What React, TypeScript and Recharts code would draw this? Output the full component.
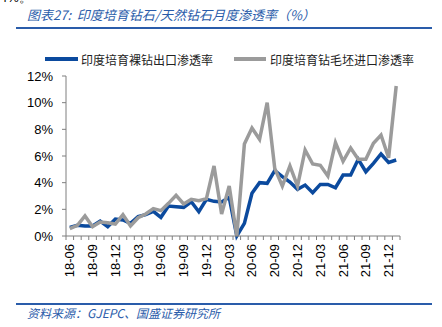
import React from 'react';
import { LineChart, Line, XAxis, YAxis, Legend } from 'recharts';

const months = [
  '18-06', '18-07', '18-08', '18-09', '18-10', '18-11', '18-12',
  '19-01', '19-02', '19-03', '19-04', '19-05', '19-06', '19-07', '19-08', '19-09', '19-10', '19-11', '19-12',
  '20-01', '20-02', '20-03', '20-04', '20-05', '20-06', '20-07', '20-08', '20-09', '20-10', '20-11', '20-12',
  '21-01', '21-02', '21-03', '21-04', '21-05', '21-06', '21-07', '21-08', '21-09', '21-10', '21-11', '21-12',
  '22-01',
];

// 印度培育裸钻出口渗透率 (%)
const bareExport = [
  0.65, 0.8, 0.75, 0.75, 1.12, 0.7, 1.27,
  1.2, 0.95, 1.45, 1.6, 1.85, 1.4, 2.25, 2.2, 2.15, 2.57, 1.82, 2.75,
  2.6, 2.55, 2.9, 0.0, 0.95, 3.2, 4.0, 3.95, 4.9, 4.45, 4.05, 3.5,
  3.82, 3.25, 3.87, 3.87, 3.62, 4.57, 4.57, 5.75, 4.82, 5.45, 6.15, 5.52,
  5.7,
];

// 印度培育钻毛坯进口渗透率 (%)
const roughImport = [
  0.55, 0.8, 1.5, 0.7, 1.05, 1.0, 0.9,
  1.6, 0.75, 1.37, 1.65, 2.05, 1.9, 2.45, 3.05, 2.4, 2.75, 2.65, 2.8,
  5.25, 1.65, 3.75, 0.0, 6.9, 8.1, 7.25, 10.0, 5.07, 3.75, 5.25, 3.75,
  6.45, 5.4, 5.3, 4.5, 7.0, 5.6, 6.6, 5.75, 5.75, 6.95, 7.57, 5.87,
  11.25,
];

const yTicks = [0, 2, 4, 6, 8, 10, 12];
const seriesNames = ['印度培育裸钻出口渗透率', '印度培育钻毛坯进口渗透率'];
const titleText = '图表27:  印度培育钻石/天然钻石月度渗透率（%）';
const sourceText = '资料来源：GJEPC、国盛证券研究所';

const data = months.map((m, i) => ({ month: m, bare: bareExport[i], rough: roughImport[i] }));

const BLUE = '#0b4a9e';
const GREY = '#9b9b9b';
const AXIS = '#7f7f7f';
const HEAD_BLUE = '#2a5caa';
const LATIN = '"Liberation Sans", Arial, sans-serif';
const CJK = '"Noto Sans CJK SC", "Liberation Sans", sans-serif';

const XTick = (props: any) => {
  const { x, y, payload, index } = props;
  const off = payload && payload.offset ? payload.offset : 0;
  const isLast = index === months.length - 1;
  return (
    <g>
      <line x1={x - off} x2={x - off} y1={y} y2={y + 4} stroke={AXIS} strokeWidth={1} />
      {isLast && <line x1={x + off} x2={x + off} y1={y} y2={y + 4} stroke={AXIS} strokeWidth={1} />}
      {index % 3 === 0 && (
        <text
          x={0}
          y={0}
          transform={`translate(${x},${y + 8}) rotate(-90)`}
          textAnchor="end"
          dominantBaseline="central"
          fontSize={13}
          fontFamily={LATIN}
          fill="#000"
        >
          {payload.value}
        </text>
      )}
    </g>
  );
};

const LegendContent = () => (
  <div style={{ display: 'flex', alignItems: 'center', height: 16, fontFamily: CJK, fontSize: 12, color: '#222' }}>
    <div style={{ width: 33, height: 4, background: BLUE, marginRight: 3 }} />
    <span style={{ whiteSpace: 'nowrap' }}>{seriesNames[0]}</span>
    <div style={{ width: 32, height: 4, background: GREY, marginLeft: 21, marginRight: 4 }} />
    <span style={{ whiteSpace: 'nowrap' }}>{seriesNames[1]}</span>
  </div>
);

export default function App() {
  return (
    <div
      style={{
        position: 'absolute',
        left: 0,
        top: 0,
        width: 442,
        height: 327,
        overflow: 'hidden',
        background: '#fff',
      }}
    >
      <div style={{ position: 'absolute', left: 0, top: -11, fontFamily: LATIN, fontSize: 13, color: '#000', whiteSpace: 'nowrap' }}>
        4%。
      </div>
      <div
        style={{
          position: 'absolute',
          left: 27,
          top: 6,
          fontFamily: CJK,
          fontStyle: 'italic',
          fontSize: 13,
          lineHeight: '18px',
          color: HEAD_BLUE,
          whiteSpace: 'pre',
        }}
      >
        {titleText}
      </div>
      <div style={{ position: 'absolute', left: 16, top: 27, width: 416, height: 2, background: HEAD_BLUE }} />
      <div style={{ position: 'absolute', left: 16, top: 303, width: 416, height: 2, background: HEAD_BLUE }} />
      <div
        style={{
          position: 'absolute',
          left: 27,
          top: 305,
          fontFamily: CJK,
          fontStyle: 'italic',
          fontSize: 12,
          lineHeight: '16px',
          color: HEAD_BLUE,
          whiteSpace: 'pre',
        }}
      >
        {sourceText}
      </div>
      <div style={{ position: 'absolute', left: 0, top: 0 }}>
        <LineChart width={442} height={327} data={data} margin={{ top: 76, right: 42, bottom: 0, left: 0 }}>
          <XAxis
            dataKey="month"
            scale="band"
            interval={0}
            height={91}
            tickSize={0}
            tickMargin={0}
            tickLine={false}
            axisLine={{ stroke: AXIS, strokeWidth: 1 }}
            tick={<XTick />}
          />
          <YAxis
            width={66}
            domain={[0, 12]}
            ticks={yTicks}
            interval={0}
            tickFormatter={(v: number) => `${v}%`}
            tickSize={4}
            tickMargin={9}
            tickLine={{ stroke: AXIS }}
            axisLine={{ stroke: AXIS, strokeWidth: 1 }}
            tick={{ fontSize: 13, fontFamily: LATIN, fill: '#000' }}
          />
          <Legend
            layout="vertical"
            align="center"
            verticalAlign="middle"
            wrapperStyle={{ position: 'absolute', top: 51, left: 45, width: 400 }}
            content={<LegendContent />}
          />
          <Line
            type="linear"
            dataKey="bare"
            name={seriesNames[0]}
            stroke={BLUE}
            strokeWidth={3.5}
            dot={false}
            isAnimationActive={false}
          />
          <Line
            type="linear"
            dataKey="rough"
            name={seriesNames[1]}
            stroke={GREY}
            strokeWidth={3.5}
            dot={false}
            isAnimationActive={false}
          />
        </LineChart>
      </div>
    </div>
  );
}
